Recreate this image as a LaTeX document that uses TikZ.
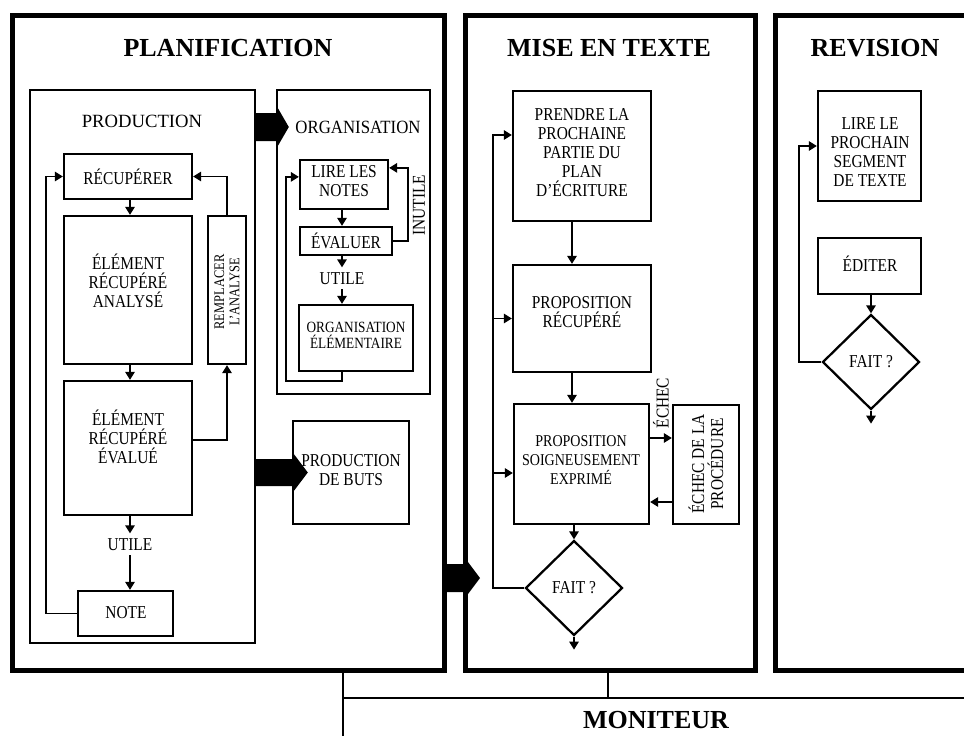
\documentclass[tikz,border=0pt]{standalone}
\usepackage{fontspec}
\setmainfont{Liberation Serif}
\newfontfamily\condf{Liberation Serif}[FakeStretch=0.85]
\newfontfamily\condg{Liberation Serif}[FakeStretch=0.9]
\usetikzlibrary{arrows.meta,fit,shapes.geometric,calc}
\tikzset{
  frm/.style={draw, line width=3.75pt, inner sep=0pt},
  ctn/.style={draw, line width=1.2pt, inner sep=0pt},
  bx/.style={draw, line width=1.7pt, inner sep=0pt},
  txt/.style={font={\condf\fontsize{13.6}{14.25}\selectfont}, align=center, inner sep=0pt},
  txts/.style={font={\condf\fontsize{12.4}{14.25}\selectfont}, align=center, inner sep=0pt},
  txto/.style={font={\condf\fontsize{11.7}{12}\selectfont}, align=center, inner sep=0pt},
  txtr/.style={font={\condf\fontsize{11}{11.5}\selectfont}, align=center, inner sep=0pt},
  ttl/.style={font={\bfseries\fontsize{19.5}{22}\selectfont}, inner sep=0pt},
  hdra/.style={font={\fontsize{14}{16}\selectfont}, inner sep=0pt},
  hdrb/.style={font={\condg\fontsize{14}{16}\selectfont}, inner sep=0pt},
  arw/.style={line width=1.4pt, -{Triangle[length=6pt,width=7pt]}},
  mon/.style={line width=1.3pt},
  dia/.style={draw, diamond, aspect=1, line width=1.7pt, inner sep=0pt,
    minimum width=72.75pt, minimum height=71.25pt,
    font={\condf\fontsize{13.6}{14.25}\selectfont}},
}
\begin{document}
\begin{tikzpicture}[x=0.75pt,y=-0.75pt]
\useasboundingbox (0,0) rectangle (964,736);
\clip (0,0) rectangle (964,736);
\fill[white] (0,0) rectangle (964,736);

% outer frames
\node[frm, fit={(12,15.5) (444.5,670)}] (plan) {};
\node[frm, fit={(465.5,15.5) (755,670)}] (mise) {};
\node[frm, fit={(775.5,15.5) (1000,670)}] (rev) {};
\node[ttl] (plan-t) at (228,48) {PLANIFICATION};
\node[ttl] (mise-t) at (609,48) {MISE EN TEXTE};
\node[ttl] (rev-t) at (875,48) {REVISION};

% containers
\node[ctn, fit={(30,90) (255,643)}] (prod) {};
\node[hdra] (prod-t) at (142,121) {PRODUCTION};
\node[ctn, fit={(277,90) (430,394)}] (org) {};
\node[hdrb] (org-t) at (358,127) {ORGANISATION};

% production internals
\node[bx, fit={(64,154) (192,199)}] (recup) {};
\node[txt] (recup-t) at (128,177) {RÉCUPÉRER};
\node[bx, fit={(64,216) (192,364)}] (anal) {};
\node[txt] (anal-t) at (128,281) {ÉLÉMENT\\RÉCUPÉRÉ\\ANALYSÉ};
\node[bx, fit={(64,381) (192,515)}] (eval) {};
\node[txt] (eval-t) at (128,437) {ÉLÉMENT\\RÉCUPÉRÉ\\ÉVALUÉ};
\node[bx, fit={(208,216) (246,364)}] (rempl) {};
\node[txtr, rotate=90] (rempl-t) at (227,292) {REMPLACER\\L’ANALYSE};
\node[txt] (util1) at (130,545) {UTILE};
\node[bx, fit={(78,591) (173,636)}] (note) {};
\node[txt] (note-t) at (126,613) {NOTE};

\coordinate (pc) at (130,0);
\coordinate (lx) at (46,0);
\coordinate (ey) at (0,440);
\draw[arw] (recup.south -| pc) -- (anal.north -| pc);
\draw[arw] (anal.south -| pc) -- (eval.north -| pc);
\draw[arw] (eval.south -| pc) -- ([yshift=4pt]util1.north);
\draw[arw] ([yshift=-3pt]util1.south) -- (note.north -| pc);
\draw[arw] (note.west) -- (note.west -| lx) |- (recup.west);
\draw[arw] (eval.east |- ey) -| (rempl.south);
\draw[arw] (rempl.north) |- (recup.east);

% organisation internals
\node[bx, fit={(300,160) (388,209)}] (lire) {};
\node[txt] (lire-t) at (344,181) {LIRE LES\\NOTES};
\node[bx, fit={(300,227) (392,255)}] (evalr) {};
\node[txt] (evalr-t) at (346,241) {ÉVALUER};
\node[txt] (util2) at (342,279) {UTILE};
\node[bx, fit={(299,305) (413,371)}] (orgel) {};
\node[txto] (orgel-t) at (356,335) {ORGANISATION\\ÉLÉMENTAIRE};
\node[txt, rotate=90] (inutile) at (419,205) {INUTILE};

\coordinate (ox) at (342,0);
\coordinate (ob) at (286,381);
\draw[arw] (lire.south -| ox) -- (evalr.north -| ox);
\draw[arw] (evalr.south -| ox) -- ([yshift=4pt]util2.north);
\draw[arw] ([yshift=-3pt]util2.south) -- (orgel.north -| ox);
\draw[arw] (evalr.east) -- ++(15,0) |- ([yshift=-6.75pt]lire.north east);
\draw[arw] (orgel.south -| ox) |- (ob) |- ([yshift=-13.5pt]lire.north west);

% production de buts
\node[bx, fit={(293,421) (409,524)}] (buts) {};
\node[txt] (buts-t) at (351,470) {PRODUCTION\\DE BUTS};

% block arrows
\coordinate (a1) at (prod.east |- org-t);
\fill ($(a1)+(0,-14)$) -- ++(22,0) -- ++(0,-5) -- ++(11,19) -- ++(-11,19) -- ++(0,-5) -- ++(-22,0) -- cycle;
\coordinate (a2) at (prod.east |- buts);
\fill ($(a2)+(0,-13.5)$) -- ++(38,0) -- ++(0,-5) -- ++(14,18.5) -- ++(-14,18.5) -- ++(0,-5) -- ++(-38,0) -- cycle;
\coordinate (a3) at (446,578);
\fill ($(a3)+(0,-14)$) -- ++(19,0) -- ++(0,-6) -- ++(15,20) -- ++(-15,20) -- ++(0,-6) -- ++(-19,0) -- cycle;

% mise en texte internals
\node[bx, fit={(513,91) (651,221)}] (prendre) {};
\node[txt] (prendre-t) at (582,153) {PRENDRE LA\\PROCHAINE\\PARTIE DU\\PLAN\\D’ÉCRITURE};
\node[bx, fit={(513,265) (651,372)}] (prop) {};
\node[txt] (prop-t) at (582,312) {PROPOSITION\\RÉCUPÉRÉ};
\node[bx, fit={(514,404) (649,524)}] (soign) {};
\node[txts] (soign-t) at (581,460) {PROPOSITION\\SOIGNEUSEMENT\\EXPRIMÉ};
\node[bx, fit={(673,405) (739,524)}] (echec) {};
\node[txt, rotate=90] (echec-t) at (706,464) {ÉCHEC DE LA\\PROCÉDURE};
\node[txt, rotate=90] (echecl) at (661,403) {ÉCHEC};
\node[dia] (fait1) at (574,588) {FAIT ?};

\coordinate (mx) at (572,0);
\coordinate (ml) at (493,135);
\coordinate (ms) at (0,473);
\coordinate (ey1) at (0,438);
\coordinate (ey2) at (0,502);
\draw[arw] (prendre.south -| mx) -- (prop.north -| mx);
\draw[arw] (prop.south -| mx) -- (soign.north -| mx);
\draw[arw] (soign.south -| fait1) -- (fait1.north);
\draw[arw] (fait1.south) -- ++(0,13);
\draw[arw] (fait1.west) -| (ml) -- (prendre.west |- ml);
\draw[arw] (ml |- prop.west) -- (prop.west);
\draw[arw] (ml |- ms) -- (soign.west |- ms);
\draw[arw] (soign.east |- ey1) -- (echec.west |- ey1);
\draw[arw] (echec.west |- ey2) -- (soign.east |- ey2);

% revision internals
\node[bx, fit={(818,91) (921,201)}] (lire2) {};
\node[txt] (lire2-t) at (870,152) {LIRE LE\\PROCHAIN\\SEGMENT\\DE TEXTE};
\node[bx, fit={(818,238) (921,294)}] (edit) {};
\node[txt] (edit-t) at (870,264) {ÉDITER};
\node[dia] (fait2) at (871,362) {FAIT ?};
\coordinate (rl) at (799,146);
\draw[arw] (edit.south -| fait2) -- (fait2.north);
\draw[arw] (fait2.south) -- ++(0,13);
\draw[arw] (fait2.west) -| (rl) -- (lire2.west |- rl);

% moniteur
\coordinate (m1) at (343,736);
\coordinate (mh) at (0,698);
\coordinate (mr) at (964,698);
\coordinate (mm) at (608,698);
\draw[mon] (plan.south -| m1) -- (m1);
\draw[mon] (m1 |- mh) -- (mr);
\draw[mon] (mise.south -| mm) -- (mm);
\node[ttl] (mon-t) at (656,720) {MONITEUR};
\end{tikzpicture}
\end{document}
